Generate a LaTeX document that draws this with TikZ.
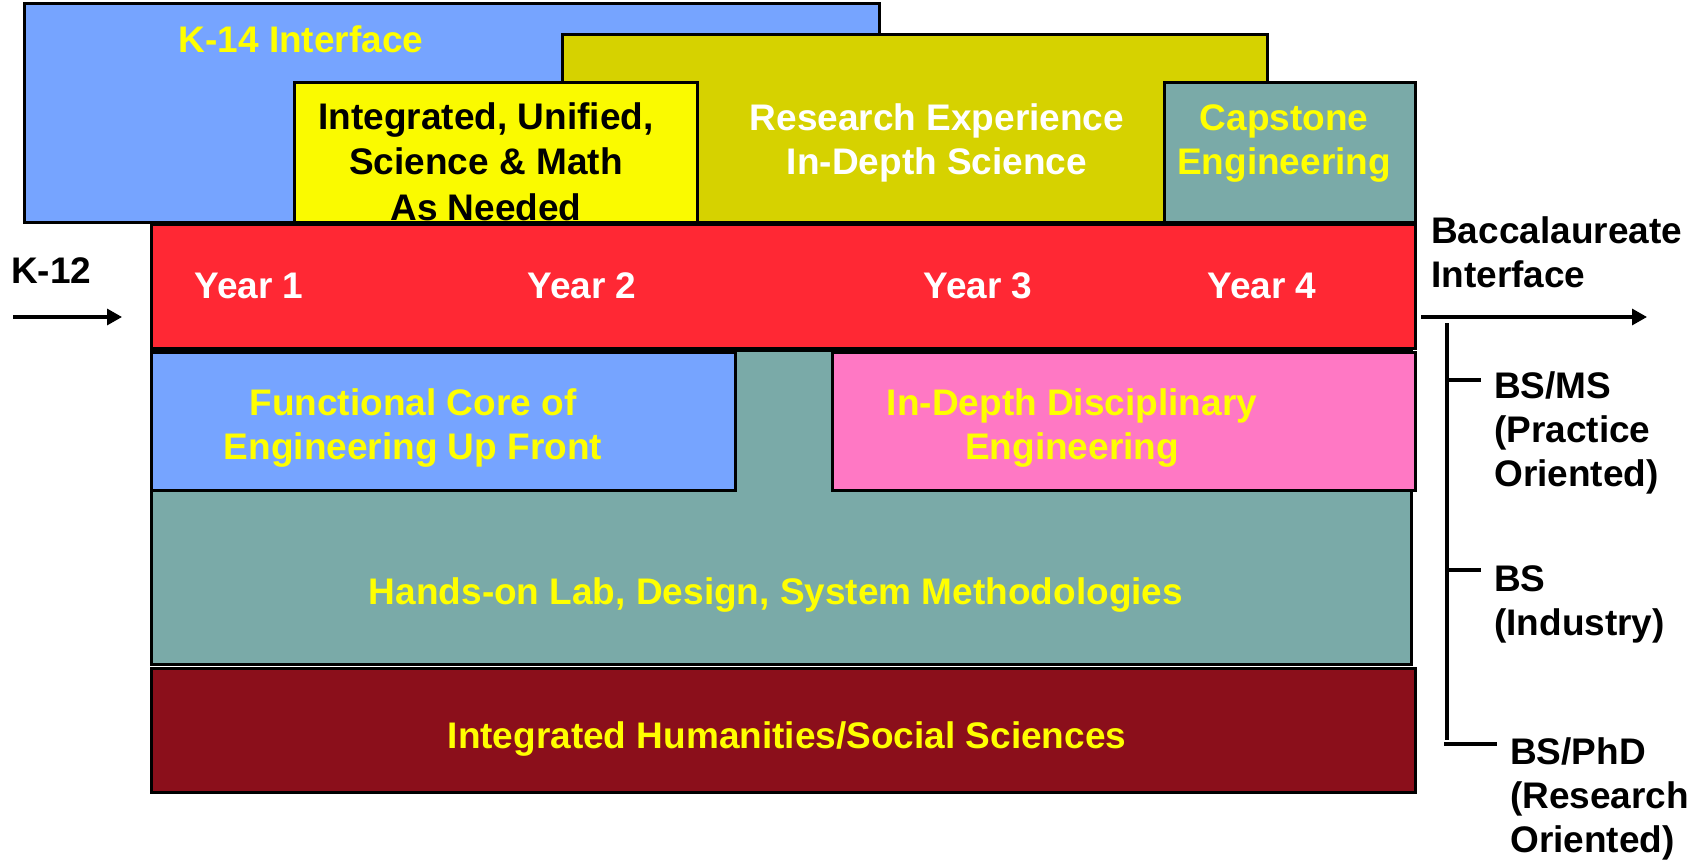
\documentclass[tikz,border=0pt]{standalone}
\usepackage{fontspec}
\setmainfont{Liberation Sans}
\usetikzlibrary{arrows.meta}
\definecolor{kblue}{RGB}{118,164,255}
\definecolor{olivebox}{RGB}{214,210,0}
\definecolor{yelbox}{RGB}{250,250,0}
\definecolor{tealbox}{RGB}{122,170,168}
\definecolor{redband}{RGB}{255,40,52}
\definecolor{pinkbox}{RGB}{255,120,196}
\definecolor{darkredbox}{RGB}{139,15,27}
\definecolor{txtyel}{RGB}{255,255,0}
\begin{document}
\begin{tikzpicture}[x=1pt,y=-1pt,
  box/.style={draw=black,line width=2.5pt,inner sep=0pt,anchor=north west},
  lbl/.style={inner sep=0pt,anchor=base,align=center,font=\bfseries\fontsize{37}{44}\selectfont},
  lbll/.style={lbl,anchor=base west,align=left},
  conn/.style={line width=3.2pt,-{Triangle[length=15pt,width=16pt]}},
  bar/.style={line width=4pt}]
\useasboundingbox (0,0) rectangle (1690,865);
% top layer boxes
\node[box,fill=kblue,minimum width=855pt,minimum height=219pt] (k14) at (23,2) {};
\node[box,fill=olivebox,minimum width=705pt,minimum height=188pt] (res) at (561,33) {};
\node[box,fill=yelbox,minimum width=403pt,minimum height=140pt] (integ) at (293,81) {};
\node[box,fill=tealbox,minimum width=251pt,minimum height=140pt] (cap) at (1163,81) {};
\node[lbl,text=txtyel] (k14t) at (301,52) {K-14 Interface};
\node[lbl,text=black,font=\bfseries\fontsize{37}{45.5}\selectfont] (integt) at (486,220) {Integrated, Unified,\\Science \& Math\\As Needed};
\node[lbl,text=white] (rest) at (937,174) {Research Experience\\In-Depth Science};
\node[lbl,text=txtyel] (capt) at (1284,174) {Capstone\\Engineering};
% lower boxes
\node[box,fill=tealbox,minimum width=1260pt,minimum height=314pt] (hands) at (150,349) {};
\node[box,fill=redband,minimum width=1264pt,minimum height=124pt] (years) at (150,223) {};
\node[box,fill=kblue,minimum width=584pt,minimum height=138pt] (func) at (150,351) {};
\node[box,fill=pinkbox,minimum width=583pt,minimum height=138pt] (disc) at (831,351) {};
\node[box,fill=darkredbox,minimum width=1264pt,minimum height=124pt] (hum) at (150,667) {};
\node[lbl,text=white] (y1) at (249,298) {Year 1};
\node[lbl,text=white] (y2) at (582,298) {Year 2};
\node[lbl,text=white] (y3) at (978,298) {Year 3};
\node[lbl,text=white] (y4) at (1262,298) {Year 4};
\node[lbl,text=txtyel] (funct) at (413,459) {Functional Core of\\Engineering Up Front};
\node[lbl,text=txtyel] (disct) at (1072,459) {In-Depth Disciplinary\\Engineering};
\node[lbl,text=txtyel] (handst) at (776,604) {Hands-on Lab, Design, System Methodologies};
\node[lbl,text=txtyel] (humt) at (787,748) {Integrated Humanities/Social Sciences};
% left and right
\node[lbll] (k12) at (11,283) {K-12};
\coordinate (k12a) at (13,317);
\coordinate (k12b) at (122,317);
\draw[conn] (k12a) -- (k12b);
\node[lbll] (bacc) at (1431,287) {Baccalaureate\\Interface};
\coordinate (ba) at (1421,317);
\coordinate (bb) at (1647,317);
\draw[conn] (ba) -- (bb);
\coordinate (vtop) at (1447,323);
\coordinate (vbot) at (1447,740);
\draw[bar] (vtop) -- (vbot);
\node[lbll] (bsms) at (1494,486) {BS/MS\\(Practice\\Oriented)};
\node[lbll] (bs) at (1494,635) {BS\\(Industry)};
\node[lbll] (bsphd) at (1510,852) {BS/PhD\\(Research\\Oriented)};
\coordinate (t1a) at (1447,380); \coordinate (t1b) at (1481,380);
\coordinate (t2a) at (1447,570); \coordinate (t2b) at (1481,570);
\coordinate (t3a) at (1444,744); \coordinate (t3b) at (1497,744);
\draw[bar] (t1a) -- (t1b);
\draw[bar] (t2a) -- (t2b);
\draw[bar] (t3a) -- (t3b);
\end{tikzpicture}
\end{document}
